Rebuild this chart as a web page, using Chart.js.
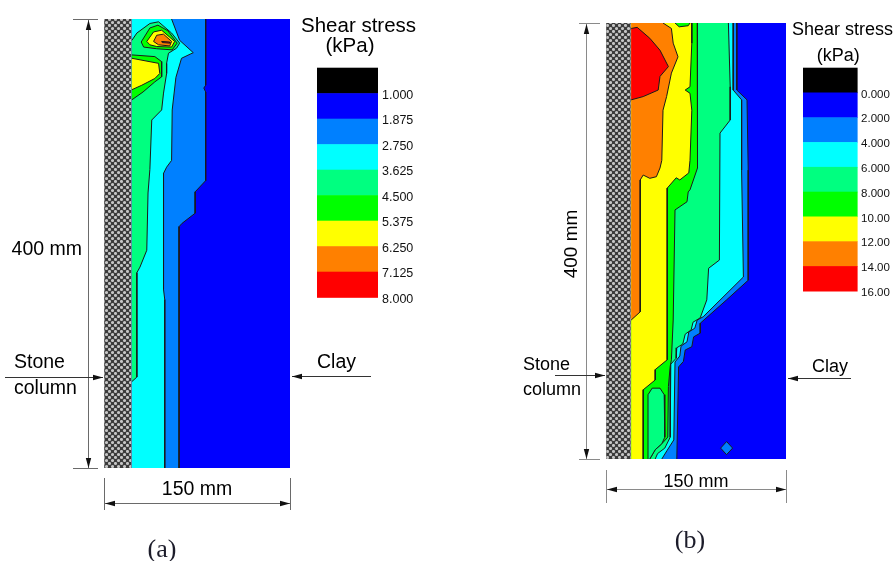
<!DOCTYPE html>
<html>
<head>
<meta charset="utf-8">
<script src="https://cdn.jsdelivr.net/npm/chart.js@4.4.0/dist/chart.umd.min.js"></script>
<style>
  html, body { margin: 0; padding: 0; background: #fff; }
  #wrap { position: relative; width: 895px; height: 561px; }
  #wrap canvas { position: absolute; left: 0; top: 0; }
</style>
</head>
<body>
<div id="wrap">
  <canvas id="chart-a" width="895" height="561"></canvas>
  <canvas id="chart-b" width="895" height="561"></canvas>
</div>
<script>
/* global Chart */

// legend bands (black box on top, then one colour per contour band)
const bandColors = ["#000000", "#0000ff", "#0080ff", "#00ffff", "#00ff80", "#00ff00", "#ffff00", "#ff8000", "#ff0000"];
const levelsA = ["1.000", "1.875", "2.750", "3.625", "4.500", "5.375", "6.250", "7.125", "8.000"];
const levelsB = ["0.000", "2.000", "4.000", "6.000", "8.000", "10.00", "12.00", "14.00", "16.00"];

// x = mm from the stone column face (0..150), y = depth in mm (0..400)
const columnWidthA = 22.5;
const columnWidthB = 21;

// panel (a) contour regions
const aBlue = [[22.5, 0], [150, 0], [150, 400], [22.5, 400]];
const aMidBlue = [[22.5, 0], [82, 0], [82, 59], [80.5, 61.5], [82, 65], [82, 144], [73.5, 154], [73.5, 173], [63, 182], [60.5, 185], [60.5, 400], [22.5, 400]];
const aCyan = [[22.5, 0], [54.5, 0], [61, 19], [72, 30], [62.5, 35], [58, 52], [55, 81], [54.5, 126], [50.5, 132], [48, 137.5], [48, 241], [49, 250], [49, 400], [22.5, 400]];
const aSpring = [[22.5, 19], [26.5, 12.5], [37, 4], [44, 2.5], [54.5, 12.5], [61, 21.5], [58.5, 26], [52, 30.5], [50.5, 39.5], [50.5, 48.5], [48, 66], [46.5, 81], [38.5, 90], [37, 134], [35.5, 155], [34.5, 206], [29, 221], [26.5, 226], [26.5, 319], [22.5, 323]];
const aGreenTop = [[30, 20.5], [37, 8], [43.5, 5.5], [51.5, 10.5], [59, 21.5], [55, 27.5], [42.5, 26.5], [32, 25]];
const aGreenMid = [[22.5, 32], [41, 33.5], [46.5, 38], [46.5, 51.5], [41, 56], [31.5, 65], [22.5, 72]];
const aYellowTop = [[34.5, 20], [40, 11.5], [46.5, 10], [57, 20], [54.5, 25], [42.5, 24.5], [37, 23]];
const aYellowMid = [[22.5, 35], [44, 39.5], [45, 48.5], [41, 53], [30.5, 59], [22.5, 63]];
const aOrange = [[40, 20], [42.5, 14.5], [48, 13.5], [54.5, 20], [53, 24], [44, 23]];
const aRed = [[46.5, 20], [53, 20.5], [53, 21.5], [47, 21]];

// panel (b) contour regions
const bBlue = [[21, 0], [150, 0], [150, 400], [21, 400]];
const bMidBlue = [[21, 0], [109, 0], [109, 61.5], [117.5, 70.5], [118.5, 135], [118.5, 236], [100.5, 254], [78.5, 275.5], [78.5, 284.5], [73, 288], [71.5, 297], [66, 300], [64.5, 310.5], [60.5, 315.5], [59, 400], [21, 400]];
const bCyan = [[21, 0], [106, 0], [106, 61.5], [113, 70.5], [113, 135], [114.5, 233], [81, 269.5], [76, 272.5], [74, 280], [69, 283.5], [67.5, 292.5], [62.5, 296.5], [61.5, 305.5], [57.5, 311], [56.5, 382.5], [51, 392], [46.5, 400], [21, 400]];
const bSpring = [[21, 0], [102, 0], [103.5, 58.5], [103.5, 89], [95, 101], [94.5, 217.5], [85.5, 225], [84, 254], [78.5, 270.5], [72.5, 274.5], [71, 281.5], [66, 285.5], [64, 294.5], [59, 298], [58.5, 307.5], [54, 313], [53.5, 380], [49, 390], [43, 395], [41, 400], [21, 400]];
const bGreen = [[21, 0], [76, 0], [76.5, 58.5], [76, 133], [70, 153], [68.5, 155], [67.5, 164], [57.5, 171.5], [56, 272.5], [54.5, 309], [53.5, 315], [52, 333.5], [51.5, 380], [46.5, 386], [41, 391.5], [36.5, 400], [21, 400]];
const bFinger = [[35, 400], [35, 341], [38.5, 335], [45, 335], [48.5, 341], [49, 380], [46.5, 386], [41, 391.5], [36.5, 400]];
const bYellow = [[21, 0], [57.5, 0], [61, 3.5], [68.5, 2.5], [70, 0], [71.5, 0], [71.5, 18.5], [70, 58.5], [66, 61.5], [70, 64.5], [71.5, 80], [70, 126], [69, 137.5], [61.5, 144], [58.5, 142], [51, 151.5], [51, 309], [41, 318], [41, 327.5], [31, 336.5], [31, 400], [21, 400]];
const bOrange = [[21, 0], [47.5, 0], [54.5, 5], [56, 18.5], [60, 31], [54.5, 46], [50.5, 67.5], [47.5, 80], [46.5, 126], [45, 133], [42, 141], [36.5, 142.5], [31, 139.5], [28.5, 144], [28.5, 265], [21, 272.5]];
const bRed = [[21, 5], [26, 4], [36.5, 14], [45, 25], [52, 40], [45, 49], [43.5, 61.5], [31, 67.5], [21, 70.5]];
const bDiamond = [[100.5, 384], [105.5, 390], [100.5, 396], [95.5, 390]];

// [region, band index into bandColors], drawn bottom to top
const layersA = [[aBlue, 1], [aMidBlue, 2], [aCyan, 3], [aSpring, 4], [aGreenTop, 5], [aGreenMid, 5], [aYellowTop, 6], [aYellowMid, 6], [aOrange, 7], [aRed, 8]];
const layersB = [[bBlue, 1], [bMidBlue, 2], [bCyan, 3], [bSpring, 4], [bGreen, 5], [bFinger, 4], [bYellow, 6], [bOrange, 7], [bRed, 8], [bDiamond, 2]];

const FONT = '"Liberation Sans", Arial, sans-serif';
const SERIF = '"Liberation Serif", "Times New Roman", serif';

const styleA = {
  pad: { left: 104, right: 605, top: 19, bottom: 93 },
  levels: levelsA,
  legendGap: 27, legendTop: 67.7, boxW: 61, boxH: 25.5, labelFont: 12.5, labelGap: 4,
  titleFont: 20.5, titleDx: 11, titleBase: 31.5, unitBase: 52, unitDx: 2.5,
  dimOff: 16, tickL: 15, tickR: 10, vRotate: false, vFont: 19.5, vTextDx: -6, vTextDy: 11,
  hLine: 35, hTickTop: 10, hTickBot: 42, hFont: 19.5, hTextBase: 27,
  lineColor: "#6a6a6a", sideFont: 19.5,
  stoneDepth: 318.7, stoneTextDx: -90, stoneLineDx: -99, stoneUp: -8.5, stoneDown: 17.5,
  clayDepth: 318, clayTextDx: 27, clayLineDx: 81, clayUp: -7.5,
  tag: "(a)", tagDx: -35, tagBase: 557, tagFont: 26,
};

const styleB = {
  pad: { left: 606, right: 109, top: 23, bottom: 102 },
  levels: levelsB,
  legendGap: 17, legendTop: 67.7, boxW: 54.6, boxH: 24.8, labelFont: 11.5, labelGap: 3.5,
  titleFont: 18, titleDx: 6, titleBase: 35, unitBase: 60.5, unitDx: 8,
  dimOff: 20, tickL: 7, tickR: 14, vRotate: true, vFont: 19, vTextDx: -14, vTextDy: 3,
  hLine: 30, hTickTop: 11, hTickBot: 44, hFont: 18, hTextBase: 27.5,
  lineColor: "#8a8a8a", sideFont: 18,
  stoneDepth: 323, stoneTextDx: -83, stoneLineDx: -51, stoneUp: -5, stoneDown: 20,
  clayDepth: 325.5, clayTextDx: 26, clayLineDx: 65, clayUp: -6,
  tag: "(b)", tagDx: -6, tagBase: 548, tagFont: 26,
};

function hatchPattern(ctx) {
  const tile = document.createElement("canvas");
  tile.width = 6;
  tile.height = 6;
  const t = tile.getContext("2d");
  t.fillStyle = "#3b3b3b";
  t.fillRect(0, 0, 6, 6);
  t.fillStyle = "#c6c6c6";
  [[1.5, 1.5], [4.5, 4.5]].forEach(([cx, cy]) => {
    t.beginPath();
    t.arc(cx, cy, 1.55, 0, Math.PI * 2);
    t.fill();
  });
  return ctx.createPattern(tile, "repeat");
}

function onFrame(p, q, colW) {
  if (p[0] === q[0] && (p[0] === colW || p[0] === 150)) return true;
  if (p[1] === q[1] && (p[1] === 0 || p[1] === 400)) return true;
  return false;
}

// one filled polygon (no border) plus one outline that skips the frame edges
function regionDatasets(pts, color, order, colW, lineColor, lineWidth) {
  const closed = pts.concat([pts[0]]);
  const data = closed.map(([x, y]) => ({ x, y }));
  const fillDs = {
    data,
    showLine: true,
    fill: "shape",
    backgroundColor: color,
    borderWidth: 0,
    borderColor: "rgba(0,0,0,0)",
    pointRadius: 0,
    order: order + 0.5,
  };
  const lineDs = {
    data,
    showLine: true,
    fill: false,
    borderWidth: lineWidth,
    borderColor: lineColor,
    pointRadius: 0,
    order,
    segment: {
      borderColor: (c) =>
        onFrame(closed[c.p0DataIndex], closed[c.p1DataIndex], colW) ? "rgba(0,0,0,0)" : lineColor,
    },
  };
  return lineWidth > 0 ? [fillDs, lineDs] : [fillDs];
}

function arrowHead(ctx, x, y, dir, len, half) {
  ctx.beginPath();
  ctx.moveTo(x, y);
  if (dir === "up") { ctx.lineTo(x - half, y + len); ctx.lineTo(x + half, y + len); }
  else if (dir === "down") { ctx.lineTo(x - half, y - len); ctx.lineTo(x + half, y - len); }
  else if (dir === "left") { ctx.lineTo(x + len, y - half); ctx.lineTo(x + len, y + half); }
  else { ctx.lineTo(x - len, y - half); ctx.lineTo(x - len, y + half); }
  ctx.closePath();
  ctx.fill();
}

function hLine(ctx, x1, x2, y) {
  const yy = Math.round(y) + 0.5;
  ctx.beginPath();
  ctx.moveTo(x1, yy);
  ctx.lineTo(x2, yy);
  ctx.stroke();
}

function vLine(ctx, x, y1, y2) {
  const xx = Math.round(x) + 0.5;
  ctx.beginPath();
  ctx.moveTo(xx, y1);
  ctx.lineTo(xx, y2);
  ctx.stroke();
}

const panelDecor = {
  id: "panel",
  afterDraw(chart, args, s) {
    const { ctx, scales } = chart;
    const left = scales.x.getPixelForValue(0);
    const right = scales.x.getPixelForValue(150);
    const top = scales.y.getPixelForValue(0);
    const bottom = scales.y.getPixelForValue(400);
    ctx.save();

    // legend
    const bx = right + s.legendGap;
    s.levels.forEach((lab, i) => {
      ctx.fillStyle = bandColors[i];
      ctx.fillRect(bx, s.legendTop + i * s.boxH, s.boxW, s.boxH + 0.6);
    });
    ctx.fillStyle = "#111";
    ctx.font = `${s.labelFont}px ${FONT}`;
    ctx.textAlign = "left";
    ctx.textBaseline = "middle";
    s.levels.forEach((lab, i) => {
      ctx.fillText(lab, bx + s.boxW + s.labelGap, s.legendTop + (i + 1) * s.boxH + 2);
    });
    ctx.fillStyle = "#000";
    ctx.textBaseline = "alphabetic";
    ctx.font = `${s.titleFont}px ${FONT}`;
    ctx.fillText("Shear stress", right + s.titleDx, s.titleBase);
    ctx.textAlign = "center";
    ctx.fillText("(kPa)", bx + s.boxW / 2 + s.unitDx, s.unitBase);

    // vertical dimension
    ctx.strokeStyle = s.lineColor;
    ctx.lineWidth = 1;
    const dx = left - s.dimOff;
    vLine(ctx, dx, top, bottom);
    hLine(ctx, dx - s.tickL, dx + s.tickR, top);
    hLine(ctx, dx - s.tickL, dx + s.tickR, bottom);
    ctx.fillStyle = "#111";
    arrowHead(ctx, Math.round(dx) + 0.5, top + 1, "up", 10, 2.7);
    arrowHead(ctx, Math.round(dx) + 0.5, bottom, "down", 10, 2.7);
    ctx.fillStyle = "#000";
    ctx.font = `${s.vFont}px ${FONT}`;
    const midY = (top + bottom) / 2;
    if (s.vRotate) {
      ctx.save();
      ctx.translate(dx + s.vTextDx, midY + s.vTextDy);
      ctx.rotate(-Math.PI / 2);
      ctx.textAlign = "center";
      ctx.textBaseline = "middle";
      ctx.fillText("400 mm", 0, 0);
      ctx.restore();
    } else {
      ctx.textAlign = "right";
      ctx.textBaseline = "alphabetic";
      ctx.fillText("400 mm", dx + s.vTextDx, midY + s.vTextDy);
    }

    // horizontal dimension
    const ly = bottom + s.hLine;
    vLine(ctx, left, bottom + s.hTickTop, bottom + s.hTickBot);
    vLine(ctx, right, bottom + s.hTickTop, bottom + s.hTickBot);
    hLine(ctx, left, right, ly);
    ctx.fillStyle = "#111";
    arrowHead(ctx, left + 1, Math.round(ly) + 0.5, "left", 10, 2.7);
    arrowHead(ctx, right, Math.round(ly) + 0.5, "right", 10, 2.7);
    ctx.fillStyle = "#000";
    ctx.font = `${s.hFont}px ${FONT}`;
    ctx.textAlign = "center";
    ctx.textBaseline = "alphabetic";
    ctx.fillText("150 mm", (left + right) / 2, bottom + s.hTextBase);

    // stone column / clay call-outs
    ctx.strokeStyle = "#333";
    const sy = scales.y.getPixelForValue(s.stoneDepth);
    hLine(ctx, left + s.stoneLineDx, left - 1, sy);
    ctx.fillStyle = "#111";
    arrowHead(ctx, left - 1, Math.round(sy) + 0.5, "right", 10, 2.7);
    const cy = scales.y.getPixelForValue(s.clayDepth);
    hLine(ctx, right + 2, right + s.clayLineDx, cy);
    arrowHead(ctx, right + 2, Math.round(cy) + 0.5, "left", 10, 2.7);
    ctx.fillStyle = "#000";
    ctx.font = `${s.sideFont}px ${FONT}`;
    ctx.textAlign = "left";
    ctx.fillText("Stone", left + s.stoneTextDx, sy + s.stoneUp);
    ctx.fillText("column", left + s.stoneTextDx, sy + s.stoneDown);
    ctx.fillText("Clay", right + s.clayTextDx, cy + s.clayUp);

    // panel tag
    ctx.fillStyle = "#1c1c2a";
    ctx.font = `${s.tagFont}px ${SERIF}`;
    ctx.textAlign = "center";
    ctx.fillText(s.tag, (left + right) / 2 + s.tagDx, s.tagBase);
    ctx.restore();
  },
};

function buildPanel(id, layers, colW, style) {
  const canvas = document.getElementById(id);
  const ctx = canvas.getContext("2d");
  const n = layers.length + 1;
  // higher order is drawn first
  let datasets = regionDatasets([[0, 0], [colW, 0], [colW, 400], [0, 400]], hatchPattern(ctx), 2 * (n + 1), -1, "#8a8a8a", 1);
  layers.forEach(([pts, band], i) => {
    datasets = datasets.concat(regionDatasets(pts, bandColors[band], 2 * (n - i), colW, "#1a1a1a", i === 0 ? 0 : 1));
  });
  return new Chart(ctx, {
    type: "scatter",
    data: { datasets },
    options: {
      responsive: false,
      animation: false,
      events: [],
      layout: { padding: style.pad },
      plugins: { legend: { display: false }, tooltip: { enabled: false }, panel: style },
      scales: {
        x: { type: "linear", min: 0, max: 150, display: false },
        y: { type: "linear", min: 0, max: 400, reverse: true, display: false },
      },
      elements: { line: { tension: 0 }, point: { radius: 0 } },
    },
    plugins: [panelDecor],
  });
}

buildPanel("chart-a", layersA, columnWidthA, styleA);
buildPanel("chart-b", layersB, columnWidthB, styleB);
</script>
</body>
</html>
